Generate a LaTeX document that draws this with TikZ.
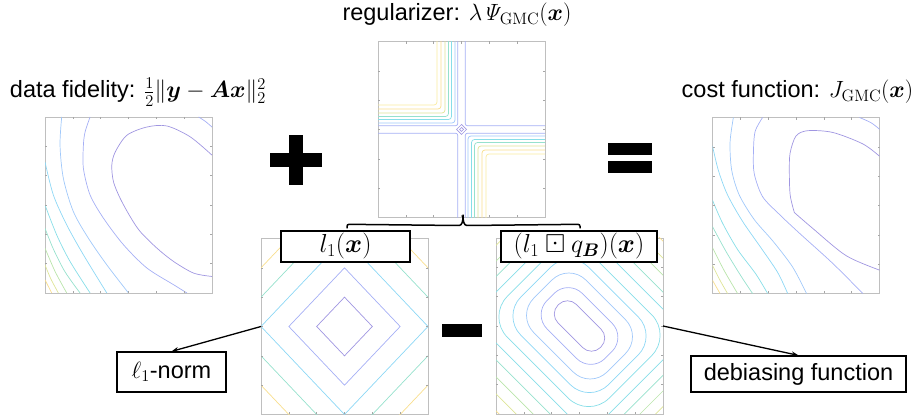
\RequirePackage{fix-cm}
\documentclass[tikz,border=0pt]{standalone}
\usepackage{amsmath,amssymb}
\usepackage[no-math]{fontspec}
\setmainfont{Liberation Sans}
\usetikzlibrary{calc}
\usetikzlibrary{arrows.meta}

% contour colours (parula, washed out)
\definecolor{lvA}{RGB}{160,150,225}
\definecolor{lvB}{RGB}{165,175,245}
\definecolor{lvC}{RGB}{160,200,250}
\definecolor{lvD}{RGB}{140,215,245}
\definecolor{lvE}{RGB}{135,222,232}
\definecolor{lvF}{RGB}{150,225,205}
\definecolor{lvG}{RGB}{185,228,170}
\definecolor{lvH}{RGB}{222,228,150}
\definecolor{lvI}{RGB}{248,222,140}
\definecolor{lvJ}{RGB}{250,235,160}

\tikzset{
  panel/.style={draw=black!25, line width=0.9pt, minimum width=167pt, minimum height=176pt, inner sep=0pt, outer sep=0pt},
  ctr/.style={line width=0.7pt},
  tck/.style={draw=black!35, line width=0.6pt},
  lbl/.style={draw, line width=1.4pt, inner sep=0pt, fill=white, font=\fontsize{26}{30}\selectfont},
  tag/.style={draw, line width=1.2pt, inner sep=0pt},
  pointer/.style={-{Stealth[length=7pt,width=5pt]}, line width=1.3pt},
}

% tick marks of a panel (normalised scope)
\newcommand\panelticks{%
  \foreach \t in {1,...,5} {
    \draw[tck] (\t/6,0) -- ++(0,0.012) (\t/6,1) -- ++(0,-0.012)
               (0,\t/6) -- ++(0.012,0) (1,\t/6) -- ++(-0.012,0);
  }}

\begin{document}
\begin{tikzpicture}[x=1pt, y=1pt, font=\fontsize{23.5}{28}\selectfont]
\useasboundingbox (0,0) rectangle (917,419);

% titles
\node[anchor=base] (tfid) at (138,321) {data fidelity: $\frac{1}{2}\|\boldsymbol{y}-\boldsymbol{A}\boldsymbol{x}\|_2^2$};
\node[anchor=base] (treg) at (457,398) {regularizer: $\lambda\mathit{\Psi}_{\mathrm{GMC}}(\boldsymbol{x})$};
\node[anchor=base] (tcost) at (797.5,321) {cost function: $J_{\mathrm{GMC}}(\boldsymbol{x})$};

% data fidelity panel
\node[panel] (fid) at (128.5,214) {};
\begin{scope}[shift={(fid.south west)}, x=167pt, y=176pt]
  \clip (0,0) rectangle (1,1);
  \draw[ctr,lvA] plot[smooth] coordinates {(1,0.783) (0.87,0.887) (0.73,0.949) (0.61,0.943) (0.49,0.896) (0.42,0.80) (0.40,0.726) (0.41,0.632) (0.45,0.538) (0.51,0.434) (0.57,0.349) (0.67,0.255) (0.77,0.179) (0.89,0.113) (1,0.094)};
  \draw[ctr,lvB] plot[smooth] coordinates {(0.27,1) (0.24,0.915) (0.23,0.84) (0.23,0.708) (0.27,0.557) (0.35,0.425) (0.47,0.274) (0.61,0.142) (0.77,0.047) (0.85,0)};
  \draw[ctr,lvB] plot[smooth] coordinates {(0.92,1) (0.96,0.975) (1,0.943)};
  \draw[ctr,lvC] plot[smooth] coordinates {(0.1,1) (0.09,0.84) (0.11,0.651) (0.17,0.462) (0.26,0.311) (0.37,0.16) (0.5,0)};
  \draw[ctr,lvD] plot[smooth] coordinates {(0,0.745) (0.05,0.557) (0.13,0.387) (0.23,0.217) (0.37,0)};
  \draw[ctr,lvE] plot[smooth] coordinates {(0,0.5) (0.07,0.33) (0.15,0.179) (0.27,0)};
  \draw[ctr,lvF] plot[smooth] coordinates {(0,0.368) (0.05,0.25) (0.12,0.12) (0.21,0)};
  \draw[ctr,lvG] plot[smooth] coordinates {(0,0.255) (0.06,0.123) (0.13,0)};
  \draw[ctr,lvH] plot[smooth] coordinates {(0,0.16) (0.035,0.08) (0.08,0)};
  \draw[ctr,lvI] plot[smooth] coordinates {(0,0.075) (0.04,0)};
  \panelticks
\end{scope}

% regularizer panel
\node[panel] (reg) at (461.5,289.5) {};
\begin{scope}[shift={(reg.center)}]
  \clip (-83.5,-88) rectangle (83.5,88);
  \foreach \d/\c in {6.5/lvC, 10/lvE, 13/lvF, 16.5/lvH, 20.5/lvI, 24.5/lvJ} {
    \draw[ctr,\c,rounded corners=3pt] (-90,\d) -- (-\d,\d) -- (-\d,90);
    \draw[ctr,\c,rounded corners=3pt] (90,-\d) -- (\d,-\d) -- (\d,-90);
  }
  \foreach \sx/\sy in {1/1, -1/1, 1/-1, -1/-1}
    \draw[ctr,lvB,rounded corners=2pt] (90*\sx,3.8*\sy) -- (3.8*\sx,3.8*\sy) -- (3.8*\sx,90*\sy);
  \draw[ctr,lvA] (-5,0) -- (0,5) -- (5,0) -- (0,-5) -- cycle;
  \draw[ctr,lvA] (-2,0) -- (0,2) -- (2,0) -- (0,-2) -- cycle;
\end{scope}
\begin{scope}[shift={(reg.south west)}, x=167pt, y=176pt]
  \panelticks
\end{scope}

% cost function panel
\node[panel] (cost) at (796,213.5) {};
\begin{scope}[shift={(cost.south west)}, x=167pt, y=176pt]
  \clip (0,0) rectangle (1,1);
  \draw[ctr,lvA] plot[smooth] coordinates {(1,0.78) (0.9,0.85) (0.72,0.915) (0.57,0.925) (0.5,0.895) (0.465,0.8) (0.46,0.7) (0.465,0.56) (0.49,0.46)}
     -- plot[smooth] coordinates {(0.49,0.46) (0.6,0.37) (0.8,0.215) (1,0.133)};
  \draw[ctr,lvB] plot[smooth] coordinates {(0.30,1) (0.255,0.92) (0.245,0.8) (0.25,0.68) (0.3,0.55) (0.4,0.45) (0.52,0.343) (0.72,0.171) (0.9,0)};
  \draw[ctr,lvB] plot[smooth] coordinates {(0.88,1) (0.95,0.97) (1,0.933)};
  \draw[ctr,lvC] plot[smooth] coordinates {(0.125,1) (0.105,0.857) (0.115,0.7) (0.16,0.56) (0.25,0.42) (0.364,0.295) (0.48,0.15) (0.563,0)};
  \draw[ctr,lvD] plot[smooth] coordinates {(0,0.838) (0.035,0.7) (0.09,0.56) (0.18,0.41) (0.29,0.26) (0.39,0.12) (0.45,0)};
  \draw[ctr,lvE] plot[smooth] coordinates {(0,0.53) (0.06,0.4) (0.15,0.25) (0.26,0.11) (0.33,0)};
  \draw[ctr,lvF] plot[smooth] coordinates {(0,0.38) (0.08,0.24) (0.17,0.1) (0.24,0)};
  \draw[ctr,lvG] plot[smooth] coordinates {(0,0.26) (0.07,0.13) (0.15,0)};
  \draw[ctr,lvH] plot[smooth] coordinates {(0,0.16) (0.045,0.075) (0.09,0)};
  \draw[ctr,lvI] plot[smooth] coordinates {(0,0.075) (0.045,0)};
  \panelticks
\end{scope}

% l1 panel
\node[panel] (lone) at (344.5,92.5) {};
\begin{scope}[shift={(lone.south west)}, x=167pt, y=176pt]
  \clip (0,0) rectangle (1,1);
  \foreach \k/\c in {1/lvA, 2/lvB, 3/lvD, 4/lvF, 5/lvI}
    \draw[ctr,\c] ({0.5-\k/6},0.5) -- (0.5,{0.5+\k/6}) -- ({0.5+\k/6},0.5) -- (0.5,{0.5-\k/6}) -- cycle;
  \panelticks
\end{scope}

% debiasing panel
\node[panel] (mor) at (579.5,93) {};
\begin{scope}[shift={(mor.center)}]
  \clip (-83.5,-88) rectangle (83.5,88);
  \begin{scope}[rotate=-45]
    \foreach \a/\b/\r/\c in {30/13/12.5pt/lvA, 41/25/20pt/lvB, 52/37/24pt/lvC, 62/48/27pt/lvD, 72/59/29pt/lvE,
                             83/71/30pt/lvE, 94/83/30pt/lvF, 105/95/30pt/lvG, 116/107/30pt/lvH, 127/119/30pt/lvI}
      \draw[ctr,\c,rounded corners=\r] (-\a,-\b) rectangle (\a,\b);
  \end{scope}
\end{scope}
\begin{scope}[shift={(mor.south west)}, x=167pt, y=176pt]
  \panelticks
\end{scope}

% operators
\fill (270,252) rectangle (322,266);
\fill (289,234) rectangle (303,284);
\fill (442,82) rectangle (482,95);
\fill (608,264) rectangle (652,276);
\fill (608,246) rectangle (652,258);

% labels on the lower panels
\node[lbl, minimum width=129pt, minimum height=31pt] (labone) at (345.5,172.5) {$l_1(\boldsymbol{x})$};
\node[lbl, minimum width=156pt, minimum height=31pt] (labtwo) at (579,172.5) {$(l_1\boxdot q_{\boldsymbol{B}})(\boldsymbol{x})$};

% brace under the regularizer
\coordinate (tip) at ($(reg.south)+(1.5,4)$);
\draw[line width=1.5pt, rounded corners=2pt] ($(labone.north)+(1.5,2)$) -- ++(0,4) -- ($(tip)+(-6,-12)$)
  .. controls ($(tip)+(-1,-12)$) and ($(tip)+(0,-8)$) .. (tip)
  .. controls ($(tip)+(0,-8)$) and ($(tip)+(1,-12)$) .. ($(tip)+(6,-12)$)
  -- ($(labtwo.north)+(1,6)$) -- ++(0,-4);

% name tags
\node[tag, minimum width=109pt, minimum height=40pt] (lnorm) at (171.5,47) {$\ell_1$-norm};
\node[tag, minimum width=215pt, minimum height=36pt] (debias) at (798.5,45) {debiasing function};
\draw[pointer] (lone.west) -- (lnorm.north);
\draw[pointer] (mor.east) -- (debias.north);
\end{tikzpicture}
\end{document}
